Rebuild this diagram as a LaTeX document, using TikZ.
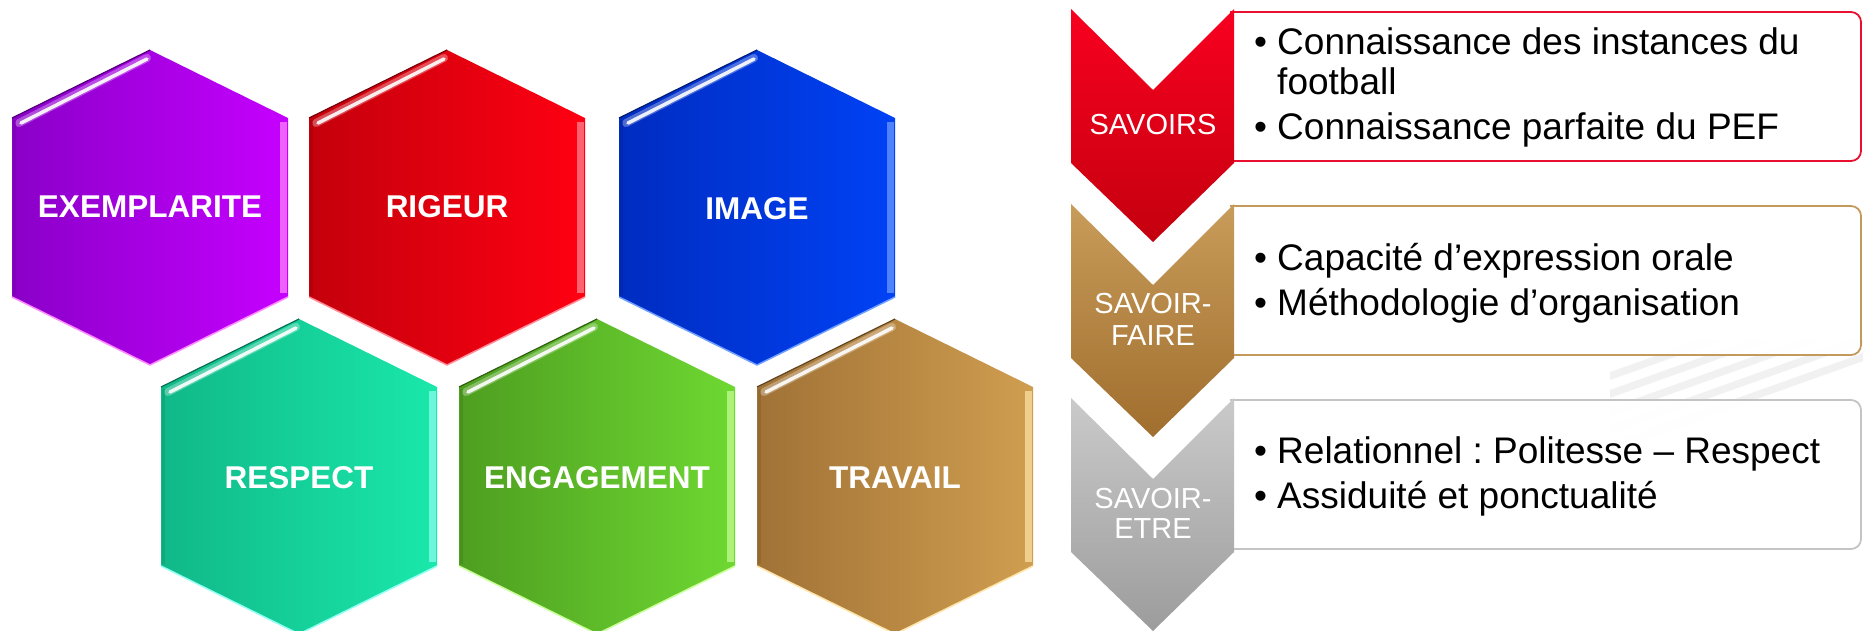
\documentclass[tikz,border=0pt]{standalone}
\usepackage{fontspec}
\setmainfont{Liberation Sans}
\frenchspacing
\definecolor{pL}{HTML}{8A00C8}\definecolor{pR}{HTML}{C600FF}\definecolor{pH}{HTML}{FF8CFF}
\definecolor{rL}{HTML}{C4000C}\definecolor{rR}{HTML}{FF0012}\definecolor{rH}{HTML}{FF8C98}
\definecolor{bL}{HTML}{002CC0}\definecolor{bR}{HTML}{0042F5}\definecolor{bH}{HTML}{70A0FF}
\definecolor{tL}{HTML}{10B888}\definecolor{tR}{HTML}{1AE8AA}\definecolor{tH}{HTML}{90FFF4}
\definecolor{gL}{HTML}{4E9E20}\definecolor{gR}{HTML}{6ED832}\definecolor{gH}{HTML}{C8FF98}
\definecolor{oL}{HTML}{A07236}\definecolor{oR}{HTML}{D09E50}\definecolor{oH}{HTML}{FFE4A8}
\definecolor{chRt}{HTML}{F80020}\definecolor{chRb}{HTML}{C4000E}
\definecolor{chGt}{HTML}{C89C5A}\definecolor{chGb}{HTML}{A06E2E}
\definecolor{chSt}{HTML}{CACACA}\definecolor{chSb}{HTML}{9C9C9C}
\definecolor{bdR}{HTML}{E8102E}\definecolor{bdG}{HTML}{C49A5C}\definecolor{bdS}{HTML}{C4C4C4}
% #1 name, #2 cx, #3 top y, #4 left colour, #5 right colour, #6 highlight, #7 label, #8 label baseline
\newcommand{\hexcell}[8]{%
  \path[left color=#4, right color=#5]
    (#2-138,#3+68) -- (#2,#3) -- (#2+138,#3+68) -- (#2+138,#3+247) -- (#2,#3+315) -- (#2-138,#3+247) -- cycle;
  \draw[#4!60!black, line width=1.2] (#2-138,#3+68) -- (#2,#3);
  \draw[white, line width=8, opacity=0.3, line cap=round] (#2-131,#3+73) -- (#2-3,#3+8);
  \draw[white, line width=3.5, opacity=0.9, line cap=round] (#2-129,#3+73) -- (#2-3,#3+9);
  \draw[#6, line width=7, opacity=0.7] (#2+133,#3+72) -- (#2+133,#3+243);
  \draw[#6, line width=1.5] (#2-138,#3+247) -- (#2,#3+315) -- (#2+138,#3+247);
  \draw[#4!85!black, line width=3, opacity=0.5] (#2-136,#3+70) -- (#2-136,#3+245);
  \node[hexlabel, anchor=base] (#1) at (#2,#8) {#7};
}
% #1 top y, #2 top colour, #3 bottom colour
\newcommand{\chevron}[3]{%
  \path[top color=#2, bottom color=#3]
    (1071,#1) -- (1153,#1+81) -- (1234,#1) -- (1234,#1+154) -- (1153,#1+233) -- (1071,#1+154) -- cycle;
}
% #1 top y, #2 border colour
\newcommand{\infobox}[2]{%
  \draw[#2, line width=1.8pt, fill=white, fill opacity=0.93, rounded corners=10pt]
    (1230,#1) -- (1861,#1) -- (1861,#1+149) -- (1230,#1+149);
}
\tikzset{
  hexlabel/.style={text=white, font=\fontsize{31.5}{36}\selectfont\bfseries, inner sep=0pt},
  chlabel/.style={text=white, font=\fontsize{29}{32}\selectfont, inner sep=0pt, anchor=base},
  itemtext/.style={text=black, font=\fontsize{37}{44}\selectfont, inner sep=0pt, anchor=base west},
}
\begin{document}
\begin{tikzpicture}[x=1pt,y=-1pt]
\useasboundingbox (0,0) rectangle (1863,631);
\fill[white] (0,0) rectangle (1863,631);
% ---------- hexagons ----------
\hexcell{exemplarite}{150}{50}{pL}{pR}{pH}{EXEMPLARITE}{218}
\hexcell{rigeur}{447}{50}{rL}{rR}{rH}{RIGEUR}{218}
\hexcell{image}{757}{50}{bL}{bR}{bH}{IMAGE}{220}
\hexcell{respect}{299}{319}{tL}{tR}{tH}{RESPECT}{488}
\hexcell{engagement}{597}{319}{gL}{gR}{gH}{ENGAGEMENT}{488}
\hexcell{travail}{895}{319}{oL}{oR}{oH}{TRAVAIL}{488}
% ---------- faint background stripes ----------
\begin{scope}
  \clip (1610,340) rectangle (1863,600);
  \foreach \x in {1420,1470,1520,1570,1620}
    \fill[gray!11] (\x,440) -- (\x+22,440) -- (\x+22+420,290) -- (\x+420,290) -- cycle;
\end{scope}
% ---------- boxes ----------
\infobox{12}{bdR}
\infobox{206}{bdG}
\infobox{400}{bdS}
% ---------- chevrons ----------
\chevron{9}{chRt}{chRb}
\chevron{204}{chGt}{chGb}
\chevron{398}{chSt}{chSb}
\node[chlabel] (savoirs) at (1153,135) {SAVOIRS};
\node[chlabel] (sf1) at (1153,313) {SAVOIR-};
\node[chlabel] (sf2) at (1153,345) {FAIRE};
\node[chlabel] (se1) at (1153,508) {SAVOIR-};
\node[chlabel] (se2) at (1153,538) {ETRE};
% ---------- texts ----------
\node[itemtext] (b1a) at (1254,55) {•};
\node[itemtext] (t1a) at (1277,55) {Connaissance des instances du};
\node[itemtext] (t1b) at (1277,95) {football};
\node[itemtext] (b1c) at (1254,140) {•};
\node[itemtext] (t1c) at (1277,140) {Connaissance parfaite du PEF};
\node[itemtext] (b2a) at (1254,270) {•};
\node[itemtext] (t2a) at (1277,270) {Capacité d’expression orale};
\node[itemtext] (b2b) at (1254,315) {•};
\node[itemtext] (t2b) at (1277,315) {Méthodologie d’organisation};
\node[itemtext] (b3a) at (1254,463) {•};
\node[itemtext] (t3a) at (1277,463) {Relationnel : Politesse – Respect};
\node[itemtext] (b3b) at (1254,508) {•};
\node[itemtext] (t3b) at (1277,508) {Assiduité et ponctualité};
\end{tikzpicture}
\end{document}
